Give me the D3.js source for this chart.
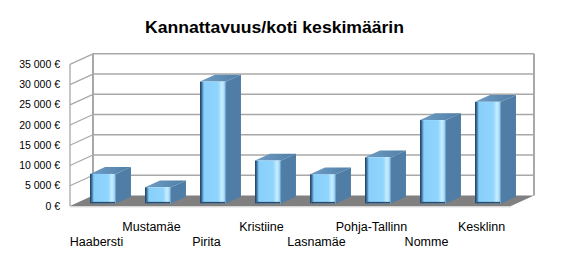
<!DOCTYPE html>
<html>
<head>
<meta charset="utf-8">
<script src="https://cdnjs.cloudflare.com/ajax/libs/d3/7.8.5/d3.min.js"></script>
<style>
  body { margin: 0; background: #fff; }
  text { font-family: "Liberation Sans", Arial, sans-serif; fill: #000; }
</style>
</head>
<body>
<svg id="chart" width="563" height="267"></svg>
<script>
// data
var categories = ["Haabersti", "Mustamäe", "Pirita", "Kristiine", "Lasnamäe", "Pohja-Tallinn", "Nomme", "Kesklinn"];
var values = [7300, 4000, 30100, 10600, 7200, 11400, 20600, 25100];
var yTicks = [0, 5000, 10000, 15000, 20000, 25000, 30000, 35000];
var title = "Kannattavuus/koti keskimäärin";

var svg = d3.select("#chart");

// front plane + depth vector (oblique 3d look)
var x0 = 70, x1 = 511, DX = 23, DY = -10.5;
var y = d3.scaleLinear().domain([0, 35000]).range([206, 64.3]);
var x = d3.scaleBand().domain(categories).range([x0, x0 + 440]);

var fmt = d3.formatLocale({ decimal: ",", thousands: " ", grouping: [3], currency: ["", ""] }).format(",");

function pt(px, v, d) { return [px + d * DX, y(v) + d * DY]; }
function poly(pts) { return pts.map(function (p) { return p.join(","); }).join(" "); }

var defs = svg.append("defs");
var gFront = defs.append("linearGradient").attr("id", "front").attr("x1", 0).attr("x2", 1).attr("y1", 0).attr("y2", 0);
[[0, "#1f3853"], [0.07, "#3f74a0"], [0.15, "#88cffb"], [0.7, "#90d5fd"], [0.84, "#c9edff"], [0.93, "#a6dcfc"], [1, "#5b8fb8"]]
  .forEach(function (s) { gFront.append("stop").attr("offset", s[0]).attr("stop-color", s[1]); });
var gTop = defs.append("linearGradient").attr("id", "top").attr("x1", 0).attr("x2", 1).attr("y1", 0).attr("y2", 0);
[[0, "#6f9dc4"], [1, "#4f7ea6"]].forEach(function (s) { gTop.append("stop").attr("offset", s[0]).attr("stop-color", s[1]); });

// walls
var gridCol = "#a8a8a8";
svg.append("rect")
  .attr("x", x0 + DX).attr("y", y(35000) + DY)
  .attr("width", x1 - x0).attr("height", y(0) - y(35000))
  .attr("fill", "#fff");
svg.append("polygon")
  .attr("points", poly([pt(x0, 35000, 0), pt(x0, 35000, 1), pt(x0, 0, 1), pt(x0, 0, 0)]))
  .attr("fill", "#fff");

// gridlines on back and side wall
yTicks.filter(function (t) { return t > 0; }).forEach(function (t) {
  svg.append("line")
    .attr("x1", x0 + DX).attr("x2", x1 + DX)
    .attr("y1", y(t) + DY).attr("y2", y(t) + DY)
    .attr("stroke", gridCol).attr("stroke-width", 1.6);
  svg.append("line")
    .attr("x1", x0).attr("y1", y(t))
    .attr("x2", x0 + DX).attr("y2", y(t) + DY)
    .attr("stroke", gridCol).attr("stroke-width", 1.3);
});
// wall edges
svg.append("line").attr("x1", x0).attr("x2", x0).attr("y1", y(35000)).attr("y2", y(0))
  .attr("stroke", gridCol).attr("stroke-width", 1.3);
svg.append("line").attr("x1", x0 + DX).attr("x2", x0 + DX).attr("y1", y(35000) + DY).attr("y2", y(0) + DY)
  .attr("stroke", gridCol).attr("stroke-width", 2);
svg.append("line").attr("x1", x1 + DX).attr("x2", x1 + DX).attr("y1", y(35000) + DY).attr("y2", y(0) + DY)
  .attr("stroke", gridCol).attr("stroke-width", 2);

// floor
svg.append("polygon")
  .attr("points", poly([pt(x0, 0, 0), pt(x1, 0, 0), pt(x1, 0, 1), pt(x0, 0, 1)]))
  .attr("fill", "#808080");
svg.append("line").attr("x1", x0).attr("x2", x1).attr("y1", y(0) + 0.8).attr("y2", y(0) + 0.8)
  .attr("stroke", "#c8c8c8").attr("stroke-width", 1);

// bars
var bw = 26, d0 = 0.24, d1 = 0.89;
var bars = svg.append("g").selectAll("g")
  .data(categories)
  .enter().append("g");

bars.each(function (c, i) {
  var g = d3.select(this);
  var left = x(c) + x.bandwidth() / 2 - bw / 2, right = left + bw, v = values[i];
  // side
  g.append("polygon")
    .attr("points", poly([pt(right, v, d0), pt(right, v, d1), pt(right, 0, d1), pt(right, 0, d0)]))
    .attr("fill", "#4f7da5");
  // top
  g.append("polygon")
    .attr("points", poly([pt(left, v, d0), pt(left, v, d1), pt(right, v, d1), pt(right, v, d0)]))
    .attr("fill", "url(#top)");
  // front
  var f = pt(left, v, d0), b = pt(left, 0, d0);
  g.append("rect")
    .attr("x", f[0]).attr("y", f[1])
    .attr("width", bw).attr("height", b[1] - f[1])
    .attr("fill", "url(#front)");
  g.append("line")
    .attr("x1", f[0] + 2).attr("x2", f[0] + bw - 1)
    .attr("y1", b[1] - 0.8).attr("y2", b[1] - 0.8)
    .attr("stroke", "#2a4a68").attr("stroke-width", 1.6);
});

// y axis labels
svg.append("g").selectAll("text")
  .data(yTicks)
  .enter().append("text")
  .attr("x", 60)
  .attr("y", function (d) { return y(d); })
  .attr("dy", "0.35em")
  .attr("text-anchor", "end")
  .style("font-size", "10.5px")
  .text(function (d) { return fmt(d) + " €"; });

// category labels, staggered
svg.append("g").selectAll("text")
  .data(categories)
  .enter().append("text")
  .attr("x", function (d) { return x(d) + x.bandwidth() / 2 - 1; })
  .attr("y", function (d, i) { return i % 2 === 0 ? 245.5 : 231; })
  .attr("text-anchor", "middle")
  .style("font-size", "12.5px")
  .text(function (d) { return d; });

// title
svg.append("text")
  .attr("x", 274.5).attr("y", 32.5)
  .attr("text-anchor", "middle")
  .attr("textLength", 259)
  .attr("lengthAdjust", "spacingAndGlyphs")
  .style("font-size", "16px")
  .style("font-weight", "bold")
  .text(title);
</script>
</body>
</html>
